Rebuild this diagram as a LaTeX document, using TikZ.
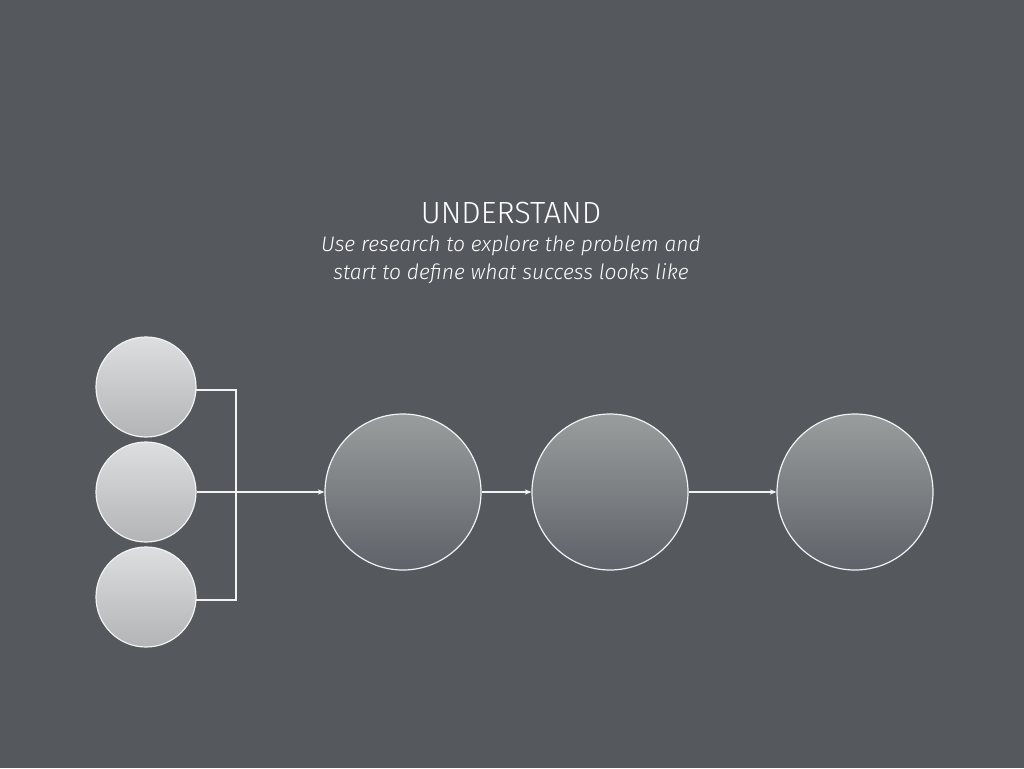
\documentclass[tikz,border=0pt]{standalone}
\usepackage{fontspec}
\setmainfont{Fira Sans Light}
\usetikzlibrary{arrows.meta}
\definecolor{bg}{HTML}{55595E}
\definecolor{smalltop}{HTML}{DCDEDF}
\definecolor{smallbot}{HTML}{B2B4B5}
\definecolor{bigtop}{HTML}{9A9D9D}
\definecolor{bigbot}{HTML}{5E6269}
\definecolor{edge}{HTML}{F2F2F2}
\tikzset{
  smallcirc/.style={circle, draw=edge, line width=0.9pt, minimum size=75pt, inner sep=0pt, top color=smalltop, bottom color=smallbot},
  bigcirc/.style={circle, draw=edge, line width=0.9pt, minimum size=117pt, inner sep=0pt, top color=bigtop, bottom color=bigbot},
  conn/.style={draw=edge, line width=0.8pt, line join=miter},
  arr/.style={conn, -{Stealth[length=5pt,width=4pt]}},
}
\begin{document}
\begin{tikzpicture}[x=0.75pt,y=-0.75pt]
\fill[bg] (0,0) rectangle (1024,768);
\useasboundingbox (0,0) rectangle (1024,768);
\node[text=white, font=\fontsize{23}{27}\selectfont] (title) at (511,213) {UNDERSTAND};
\node[text=white, font=\fontsize{15.8}{21}\selectfont\itshape, align=center] (sub) at (511,260) {Use research to explore the problem and\\start to define what success looks like};
\node[smallcirc] (s1) at (146,387) {};
\node[smallcirc] (s2) at (146,492) {};
\node[smallcirc] (s3) at (146,597) {};
\node[bigcirc] (b1) at (403,492) {};
\node[bigcirc] (b2) at (610,492) {};
\node[bigcirc] (b3) at (855,492) {};
\coordinate (a1) at (196,390);
\coordinate (j1) at (236,390);
\coordinate (j3) at (236,600);
\coordinate (a3) at (196,600);
\draw[conn] (a1) -- (j1) -- (j3) -- (a3);
\draw[arr] (s2.east) -- (b1.west);
\draw[arr] (b1.east) -- (b2.west);
\draw[arr] (b2.east) -- (b3.west);
\end{tikzpicture}
\end{document}
